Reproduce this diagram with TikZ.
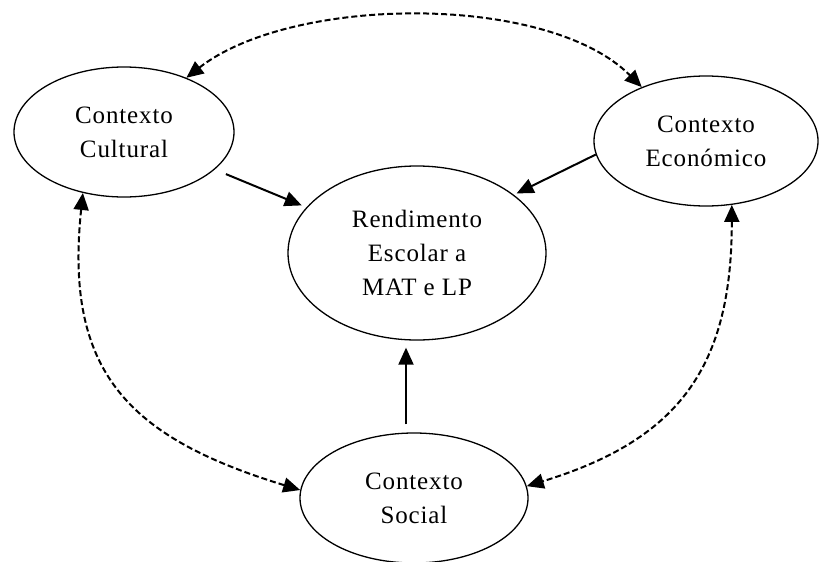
\documentclass[tikz,border=0pt]{standalone}
\usepackage{fontspec}
\setmainfont{Liberation Serif}[LetterSpace=3.5]
\usetikzlibrary{shapes.geometric,arrows.meta}
\tikzset{
  ell/.style={ellipse, draw, line width=1.3pt, inner sep=0pt, align=center,
    font=\fontsize{25}{34}\selectfont},
  tip/.tip={Triangle[length=17pt,width=15pt]},
  solidarrow/.style={line width=2pt, -tip},
  dasharrow/.style={line width=2pt, dash pattern=on 6pt off 3pt, tip-tip},
}
\begin{document}
\begin{tikzpicture}[x=1pt,y=1pt]
\useasboundingbox (0,0) rectangle (819,-562);
\node[ell, minimum width=220pt, minimum height=130pt] (cul) at (124,-132) {Contexto\\Cultural};
\node[ell, minimum width=224pt, minimum height=130pt] (eco) at (706,-141) {Contexto\\Económico};
\node[ell, minimum width=258pt, minimum height=174pt] (ren) at (417,-253) {Rendimento\\Escolar a\\MAT e LP};
\node[ell, minimum width=228pt, minimum height=130pt] (soc) at (414,-498) {Contexto\\Social};

\draw[solidarrow, shorten <=12pt, shorten >=5pt] (cul) -- (ren);
\draw[solidarrow, shorten >=3pt] (eco.187) -- (ren.31);
\draw[solidarrow] ([xshift=-8pt,yshift=8pt]soc.north) -- ([xshift=-11pt,yshift=-7pt]ren.south);

\draw[dasharrow] (cul.41.5) to[out=38,in=135,looseness=0.75] (eco.140.4);
\draw[dasharrow] (cul.236) to[out=-96,in=163,looseness=1.25] (soc.176);
\draw[dasharrow] (eco.-68) to[out=-90,in=17,looseness=1.18] (soc.6.5);
\end{tikzpicture}
\end{document}
